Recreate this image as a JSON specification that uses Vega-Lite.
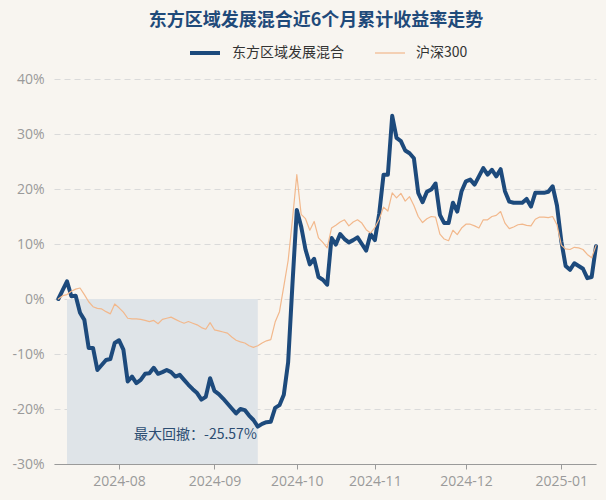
{
  "$schema": "https://vega.github.io/schema/vega-lite/v6.json",
  "width": 542,
  "height": 385,
  "autosize": {"type": "none"},
  "padding": {"left": 54, "top": 79, "right": 10, "bottom": 36},
  "background": "#f8f5f0",
  "title": {
    "text": "东方区域发展混合近6个月累计收益率走势",
    "fontSize": 18,
    "fontWeight": "bold",
    "color": "#1f4a7a",
    "font": "Noto Sans CJK SC",
    "anchor": "middle",
    "frame": "group",
    "offset": 6,
    "dx": -9
  },
  "config": {
    "view": {"stroke": null},
    "font": "Open Sans, Noto Sans CJK SC"
  },
  "data": {
    "values": [
      {"d": "2024-07-12", "f": 0, "h": 0},
      {"d": "2024-07-15", "f": 1.6, "h": 0.6},
      {"d": "2024-07-16", "f": 3.2, "h": 0.8},
      {"d": "2024-07-17", "f": 0.5, "h": 1.4},
      {"d": "2024-07-18", "f": 0.6, "h": 1.8},
      {"d": "2024-07-19", "f": -2.5, "h": 2.0},
      {"d": "2024-07-22", "f": -3.8, "h": 0.8},
      {"d": "2024-07-23", "f": -8.9, "h": -0.5},
      {"d": "2024-07-24", "f": -8.9, "h": -1.4},
      {"d": "2024-07-25", "f": -12.9, "h": -1.7},
      {"d": "2024-07-26", "f": -12.0, "h": -1.8},
      {"d": "2024-07-29", "f": -11.1, "h": -2.3},
      {"d": "2024-07-30", "f": -10.9, "h": -2.7},
      {"d": "2024-07-31", "f": -8.0, "h": -0.9},
      {"d": "2024-08-01", "f": -7.5, "h": -1.6},
      {"d": "2024-08-02", "f": -9.2, "h": -2.4},
      {"d": "2024-08-05", "f": -15.0, "h": -3.5},
      {"d": "2024-08-06", "f": -14.1, "h": -3.6},
      {"d": "2024-08-07", "f": -15.3, "h": -3.6},
      {"d": "2024-08-08", "f": -14.7, "h": -3.7},
      {"d": "2024-08-09", "f": -13.6, "h": -3.9},
      {"d": "2024-08-12", "f": -13.5, "h": -4.1},
      {"d": "2024-08-13", "f": -12.5, "h": -3.9},
      {"d": "2024-08-14", "f": -13.6, "h": -4.5},
      {"d": "2024-08-15", "f": -13.3, "h": -3.7},
      {"d": "2024-08-16", "f": -12.9, "h": -3.5},
      {"d": "2024-08-19", "f": -13.3, "h": -3.3},
      {"d": "2024-08-20", "f": -14.1, "h": -3.7},
      {"d": "2024-08-21", "f": -13.8, "h": -4.1},
      {"d": "2024-08-22", "f": -14.7, "h": -4.4},
      {"d": "2024-08-23", "f": -15.6, "h": -4.1},
      {"d": "2024-08-26", "f": -16.4, "h": -4.4},
      {"d": "2024-08-27", "f": -17.1, "h": -4.7},
      {"d": "2024-08-28", "f": -18.3, "h": -5.2},
      {"d": "2024-08-29", "f": -17.8, "h": -5.5},
      {"d": "2024-08-30", "f": -14.4, "h": -4.3},
      {"d": "2024-09-02", "f": -16.7, "h": -5.6},
      {"d": "2024-09-03", "f": -17.3, "h": -5.8},
      {"d": "2024-09-04", "f": -18.1, "h": -6.0},
      {"d": "2024-09-05", "f": -19.0, "h": -6.2},
      {"d": "2024-09-06", "f": -19.9, "h": -6.9},
      {"d": "2024-09-09", "f": -20.8, "h": -7.5},
      {"d": "2024-09-10", "f": -20.0, "h": -7.8},
      {"d": "2024-09-11", "f": -20.2, "h": -8.0},
      {"d": "2024-09-12", "f": -21.2, "h": -8.5},
      {"d": "2024-09-13", "f": -22.0, "h": -8.8},
      {"d": "2024-09-18", "f": -23.2, "h": -8.5},
      {"d": "2024-09-19", "f": -22.7, "h": -8.0},
      {"d": "2024-09-20", "f": -22.4, "h": -7.6},
      {"d": "2024-09-23", "f": -22.3, "h": -7.4},
      {"d": "2024-09-24", "f": -19.8, "h": -4.2},
      {"d": "2024-09-25", "f": -19.3, "h": -2.3},
      {"d": "2024-09-26", "f": -17.4, "h": 2.3},
      {"d": "2024-09-27", "f": -11.5, "h": 7.0},
      {"d": "2024-09-30", "f": 2.8, "h": 14.5},
      {"d": "2024-10-08", "f": 16.2, "h": 22.6},
      {"d": "2024-10-09", "f": 13.2, "h": 15.4},
      {"d": "2024-10-10", "f": 9.0, "h": 14.6},
      {"d": "2024-10-11", "f": 6.3, "h": 12.5},
      {"d": "2024-10-14", "f": 7.3, "h": 14.1},
      {"d": "2024-10-15", "f": 4.0, "h": 11.1},
      {"d": "2024-10-16", "f": 3.5, "h": 10.3},
      {"d": "2024-10-17", "f": 2.6, "h": 9.3},
      {"d": "2024-10-18", "f": 11.1, "h": 12.9},
      {"d": "2024-10-21", "f": 9.9, "h": 13.4},
      {"d": "2024-10-22", "f": 11.8, "h": 14.0},
      {"d": "2024-10-23", "f": 10.9, "h": 14.4},
      {"d": "2024-10-24", "f": 10.3, "h": 13.3},
      {"d": "2024-10-25", "f": 10.7, "h": 14.0},
      {"d": "2024-10-28", "f": 11.2, "h": 14.4},
      {"d": "2024-10-29", "f": 10.0, "h": 13.8},
      {"d": "2024-10-30", "f": 8.8, "h": 12.6},
      {"d": "2024-10-31", "f": 11.8, "h": 12.0},
      {"d": "2024-11-01", "f": 10.7, "h": 13.0},
      {"d": "2024-11-04", "f": 15.5, "h": 14.5},
      {"d": "2024-11-05", "f": 22.6, "h": 16.7},
      {"d": "2024-11-06", "f": 22.6, "h": 16.0},
      {"d": "2024-11-07", "f": 33.3, "h": 19.3},
      {"d": "2024-11-08", "f": 29.3, "h": 18.4},
      {"d": "2024-11-11", "f": 28.7, "h": 19.2},
      {"d": "2024-11-12", "f": 27.0, "h": 17.8},
      {"d": "2024-11-13", "f": 26.5, "h": 18.6},
      {"d": "2024-11-14", "f": 25.6, "h": 17.0},
      {"d": "2024-11-15", "f": 19.3, "h": 15.0},
      {"d": "2024-11-18", "f": 17.6, "h": 13.9},
      {"d": "2024-11-19", "f": 19.5, "h": 14.6},
      {"d": "2024-11-20", "f": 19.9, "h": 15.0},
      {"d": "2024-11-21", "f": 21.0, "h": 14.9},
      {"d": "2024-11-22", "f": 15.3, "h": 11.8},
      {"d": "2024-11-25", "f": 13.8, "h": 10.9},
      {"d": "2024-11-26", "f": 13.8, "h": 10.6},
      {"d": "2024-11-27", "f": 17.5, "h": 12.5},
      {"d": "2024-11-28", "f": 15.9, "h": 11.7},
      {"d": "2024-11-29", "f": 19.6, "h": 12.9},
      {"d": "2024-12-02", "f": 21.4, "h": 13.6},
      {"d": "2024-12-03", "f": 21.7, "h": 13.6},
      {"d": "2024-12-04", "f": 20.8, "h": 13.3},
      {"d": "2024-12-05", "f": 22.3, "h": 12.9},
      {"d": "2024-12-06", "f": 23.8, "h": 14.4},
      {"d": "2024-12-09", "f": 22.6, "h": 14.4},
      {"d": "2024-12-10", "f": 23.5, "h": 15.0},
      {"d": "2024-12-11", "f": 22.3, "h": 15.2},
      {"d": "2024-12-12", "f": 23.6, "h": 15.9},
      {"d": "2024-12-13", "f": 19.6, "h": 13.8},
      {"d": "2024-12-16", "f": 17.7, "h": 12.8},
      {"d": "2024-12-17", "f": 17.5, "h": 13.1},
      {"d": "2024-12-18", "f": 17.5, "h": 13.5},
      {"d": "2024-12-19", "f": 17.5, "h": 13.6},
      {"d": "2024-12-20", "f": 18.2, "h": 13.4},
      {"d": "2024-12-23", "f": 16.8, "h": 13.3},
      {"d": "2024-12-24", "f": 19.3, "h": 14.5},
      {"d": "2024-12-25", "f": 19.3, "h": 14.9},
      {"d": "2024-12-26", "f": 19.3, "h": 14.9},
      {"d": "2024-12-27", "f": 19.5, "h": 14.8},
      {"d": "2024-12-30", "f": 20.5, "h": 15.0},
      {"d": "2024-12-31", "f": 17.0, "h": 13.5},
      {"d": "2025-01-02", "f": 10.5, "h": 9.8},
      {"d": "2025-01-03", "f": 6.0, "h": 9.1},
      {"d": "2025-01-06", "f": 5.3, "h": 9.0},
      {"d": "2025-01-07", "f": 6.5, "h": 9.4},
      {"d": "2025-01-08", "f": 6.0, "h": 9.3},
      {"d": "2025-01-09", "f": 5.5, "h": 9.0},
      {"d": "2025-01-10", "f": 3.8, "h": 8.1},
      {"d": "2025-01-13", "f": 4.0, "h": 7.5},
      {"d": "2025-01-14", "f": 9.6, "h": 9.7}
    ]
  },
  "transform": [{"fold": ["f", "h"], "as": ["s", "v"]}],
  "encoding": {
    "x": {
      "field": "d",
      "type": "ordinal",
      "scale": {"type": "point", "padding": 0},
      "axis": {
        "title": null,
        "values": ["2024-08-01", "2024-09-02", "2024-10-08", "2024-11-01", "2024-12-02", "2025-01-02"],
        "labelExpr": "substring(datum.value, 0, 7)",
        "labelAngle": 0,
        "labelColor": "#9a9a9a",
        "labelFontSize": 14,
        "labelPadding": 5,
        "domainColor": "#9a9a9a",
        "tickColor": "#9a9a9a",
        "tickSize": 5,
        "grid": false
      }
    }
  },
  "layer": [
    {
      "transform": [{"filter": "datum.s == 'f' && datum.d >= '2024-07-16' && datum.d <= '2024-09-18'"}],
      "mark": {"type": "area", "color": "#dfe4e8", "opacity": 1},
      "encoding": {
        "y": {"datum": 0, "type": "quantitative", "scale": {"domain": [-30, 40], "nice": false}},
        "y2": {"datum": -30}
      }
    },
    {
      "data": {"values": [{}]},
      "mark": {"type": "rule", "color": "#d6d6d6", "strokeWidth": 2},
      "encoding": {"y": {"datum": 0, "type": "quantitative"}}
    },
    {
      "mark": {"type": "line", "strokeJoin": "round", "strokeCap": "round"},
      "encoding": {
        "y": {
          "field": "v",
          "type": "quantitative",
          "scale": {"domain": [-30, 40], "nice": false},
          "axis": {
            "title": null,
            "values": [-30, -20, -10, 0, 10, 20, 30, 40],
            "labelExpr": "datum.value + '%'",
            "labelColor": "#9a9a9a",
            "labelFontSize": 14,
            "labelPadding": 10,
            "domain": false,
            "ticks": false,
            "grid": true,
            "gridColor": "#dadada",
            "gridDash": [6, 4],
            "gridWidth": 1
          }
        },
        "color": {
          "field": "s",
          "type": "nominal",
          "scale": {"domain": ["f", "h"], "range": ["#1d4a7c", "#f2b88c"]},
          "legend": {
            "title": null,
            "orient": "none",
            "legendX": 134,
            "legendY": -43,
            "direction": "horizontal",
            "symbolType": "stroke",
            "symbolSize": 900,
            "labelFontSize": 14,
            "labelColor": "#333333",
            "labelFont": "Noto Sans CJK SC",
            "labelOffset": 10,
            "columnPadding": 28,
            "labelExpr": "datum.label == 'f' ? '东方区域发展混合' : '沪深300'"
          }
        },
        "strokeWidth": {
          "field": "s",
          "type": "nominal",
          "scale": {"domain": ["f", "h"], "range": [4, 1.2]},
          "legend": {
            "title": null,
            "orient": "none",
            "legendX": 134,
            "legendY": -43,
            "direction": "horizontal",
            "symbolType": "stroke",
            "symbolSize": 900,
            "labelFontSize": 14,
            "labelColor": "#333333",
            "labelFont": "Noto Sans CJK SC",
            "labelOffset": 10,
            "columnPadding": 28,
            "labelExpr": "datum.label == 'f' ? '东方区域发展混合' : '沪深300'"
          }
        }
      }
    },
    {
      "transform": [{"filter": "datum.s == 'f' && datum.d == '2024-09-18'"}],
      "mark": {"type": "text", "align": "right", "baseline": "middle", "fontSize": 14, "color": "#2c4d72", "font": "Noto Sans CJK SC", "dx": -1},
      "encoding": {
        "y": {"datum": -24.7, "type": "quantitative"},
        "text": {"value": "最大回撤：-25.57%"}
      }
    }
  ]
}
